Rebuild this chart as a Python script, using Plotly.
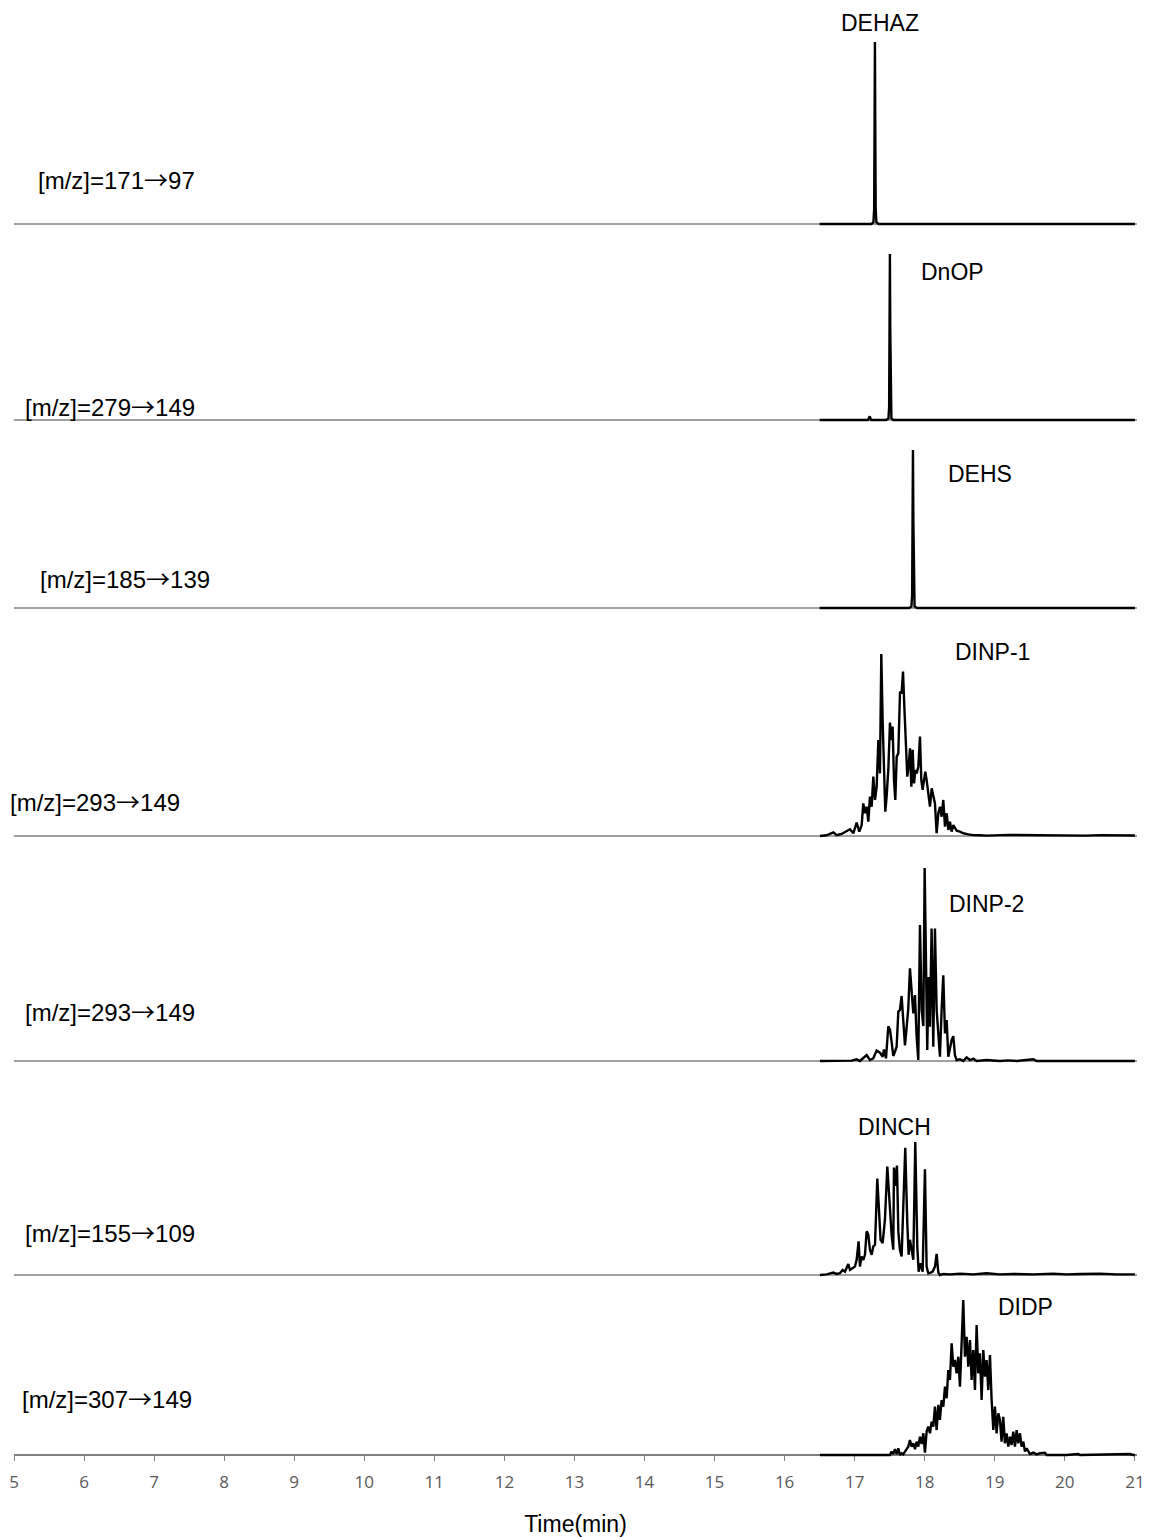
import plotly.graph_objects as go

# ---------------- data ----------------
tick_values = list(range(5, 22))
time_title = "Time(min)"

transition_labels = ["[m/z]=171→97", "[m/z]=279→149", "[m/z]=185→139", "[m/z]=293→149",
                     "[m/z]=293→149", "[m/z]=155→109", "[m/z]=307→149"]
compound_names = ["DEHAZ", "DnOP", "DEHS", "DINP-1", "DINP-2", "DINCH", "DIDP"]

# relative intensity (%) vs retention time (min)
dehaz_t = [16.5, 17.24, 17.268, 17.278, 17.284, 17.289, 17.294, 17.300, 17.31, 17.34, 21.0]
dehaz_i = [0, 0, 1.0, 8, 55, 100, 55, 8, 1.0, 0, 0]

dnop_t = [16.5, 17.19, 17.215, 17.235, 17.45, 17.482, 17.492, 17.498, 17.503, 17.508, 17.514, 17.524, 17.55, 21.0]
dnop_i = [0, 0, 2.2, 0, 0, 1.0, 8, 55, 100, 55, 8, 1.0, 0, 0]

dehs_t = [16.5, 17.78, 17.81, 17.82, 17.826, 17.832, 17.838, 17.844, 17.855, 17.89, 21.0]
dehs_i = [0, 0, 1.0, 8, 55, 100, 55, 8, 1.0, 0, 0]

dinp1_t = [16.505, 16.60, 16.695, 16.743, 16.814, 16.886, 16.933, 16.981, 17.028, 17.066, 17.10,
           17.123, 17.147, 17.171, 17.195, 17.218, 17.242, 17.266, 17.29, 17.314, 17.338, 17.361,
           17.38, 17.40, 17.418, 17.437, 17.456, 17.48, 17.504, 17.523, 17.542, 17.561, 17.58,
           17.60, 17.623, 17.647, 17.67, 17.69, 17.709, 17.732, 17.751, 17.77, 17.79, 17.809,
           17.828, 17.847, 17.866, 17.885, 17.908, 17.932, 17.951, 17.97, 17.989, 18.008, 18.027,
           18.051, 18.075, 18.099, 18.123, 18.146, 18.17, 18.194, 18.218, 18.241, 18.265, 18.289,
           18.313, 18.337, 18.36, 18.384, 18.408, 18.456, 18.503, 18.55, 18.622, 18.693, 18.789,
           18.884, 19.2, 19.5, 19.8, 20.0, 20.3, 20.5, 20.8, 21.0]
dinp1_i = [0, 0.4, 2.0, 0.4, 1.1, 2.4, 3.7, 1.5, 7.3, 2.4, 6.0,
           17.9, 12.5, 16.1, 7.9, 21.6, 16.1, 32.6, 19.8, 27.1, 52.7, 34.4,
           100, 61.9, 43.6, 13.4, 21.6, 36.3, 62.3, 52.7, 60.1, 30.8, 19.8,
           43.6, 45.4, 79.3, 78.4, 90.3, 71.1, 52.7, 32.6, 38.1, 48.2, 27.1,
           47.3, 28.9, 36.3, 34.4, 38.1, 54.6, 30.8, 25.3, 30.8, 35.3, 30.8,
           21.6, 16.1, 26.2, 21.6, 17.9, 1.5, 12.5, 16.1, 10.6, 19.8, 5.1,
           12.5, 3.3, 7.9, 2.4, 6.0, 2.9, 2.4, 1.5, 0.9, 0.5, 0.4,
           0.2, 0.6, 0.5, 0.3, 0.6, 0.2, 0.5, 0.3, 0.3]

dinp2_t = [16.505, 16.956, 17.028, 17.075, 17.171, 17.218, 17.266, 17.313, 17.361, 17.399, 17.418,
           17.447, 17.48, 17.504, 17.527, 17.551, 17.575, 17.599, 17.623, 17.646, 17.67, 17.694,
           17.718, 17.742, 17.765, 17.789, 17.813, 17.837, 17.861, 17.884, 17.908, 17.932, 17.956,
           17.98, 17.999, 18.017, 18.036, 18.055, 18.074, 18.098, 18.122, 18.146, 18.17, 18.194,
           18.217, 18.241, 18.265, 18.289, 18.313, 18.336, 18.36, 18.384, 18.408, 18.431, 18.455,
           18.503, 18.55, 18.598, 18.646, 18.693, 18.741, 18.883, 19.074, 19.193, 19.312, 19.55,
           19.597, 21.0]
dinp2_i = [0, 0.2, 0.9, 0, 3.1, 0.5, 1.4, 5.4, 4.3, 2.2, 6.0,
           1.4, 18.0, 16.1, 10.0, 2.6, 4.8, 7.4, 25.6, 26.4, 33.7, 22.8,
           8.1, 17.6, 27.1, 48.0, 36.8, 24.7, 34.2, 12.8, 0.5, 70.5, 26.4,
           18.1, 100, 45.4, 5.7, 43.5, 17.8, 68.7, 7.4, 68.7, 26.4, 14.3,
           2.2, 26.4, 44.4, 14.3, 21.2, 2.2, 7.4, 10.8, 12.9, 3.1, 0.5,
           0.9, 0, 1.9, 0.5, 1.2, 0, 0.5, 0, 0.3, 0, 0.9,
           0, 0]

dinch_t = [16.505, 16.6, 16.695, 16.742, 16.79, 16.828, 16.861, 16.909, 16.933, 16.971, 17.004,
           17.028, 17.056, 17.075, 17.099, 17.123, 17.147, 17.171, 17.194, 17.218, 17.242, 17.266,
           17.29, 17.323, 17.351, 17.37, 17.399, 17.432, 17.466, 17.494, 17.528, 17.551, 17.561,
           17.58, 17.604, 17.623, 17.646, 17.67, 17.694, 17.722, 17.751, 17.77, 17.789, 17.813,
           17.837, 17.865, 17.894, 17.913, 17.941, 17.97, 18.003, 18.027, 18.051, 18.084, 18.113,
           18.146, 18.17, 18.194, 18.217, 18.265, 18.36, 18.503, 18.693, 18.883, 19.074, 19.264,
           19.454, 19.55, 19.835, 20.025, 20.216, 20.5, 20.739, 21.0]
dinch_i = [0, 0.5, 1.8, 0.8, 1.3, 3.8, 2.5, 8.3, 3.8, 5.1, 6.3,
           11.4, 25.3, 6.3, 13.9, 11.4, 15.2, 32.8, 30.3, 18.9, 15.2, 21.5,
           22.7, 72.5, 39.1, 26.5, 24.0, 41.7, 81.6, 57.6, 29.8, 19.0, 80.8,
           66.9, 82.3, 32.8, 19.0, 13.9, 51.5, 95.7, 39.1, 15.2, 26.5, 19.0,
           11.4, 100, 21.5, 2.5, 8.8, 2.5, 79.5, 6.3, 1.3, 1.8, 2.5,
           6.3, 15.9, 1.8, 0, 0.8, 0.5, 1.0, 0.5, 1.3, 0.5, 0.8,
           0.3, 0.5, 1.0, 0.5, 0.8, 1.0, 0.5, 0.5]

didp_t = [16.505, 17.504, 17.527, 17.551, 17.575, 17.599, 17.623, 17.646, 17.67, 17.694, 17.732,
          17.765, 17.789, 17.813, 17.837, 17.861, 17.884, 17.908, 17.932, 17.956, 17.98, 18.003,
          18.027, 18.051, 18.075, 18.098, 18.122, 18.146, 18.17, 18.194, 18.217, 18.241, 18.265,
          18.289, 18.313, 18.336, 18.36, 18.384, 18.408, 18.431, 18.455, 18.479, 18.503, 18.527,
          18.55, 18.574, 18.598, 18.622, 18.646, 18.669, 18.693, 18.717, 18.741, 18.764, 18.788,
          18.812, 18.836, 18.86, 18.883, 18.907, 18.931, 18.955, 18.979, 19.002, 19.026, 19.05,
          19.074, 19.097, 19.121, 19.145, 19.169, 19.193, 19.217, 19.24, 19.264, 19.288, 19.312,
          19.335, 19.359, 19.383, 19.407, 19.431, 19.454, 19.502, 19.55, 19.597, 19.645, 19.716,
          19.74, 20.025, 20.192, 20.216, 20.929, 20.977, 21.0]
didp_i = [0, 0, 2.2, 0.6, 3.7, 0.6, 4.3, 0, 1.1, 0.4, 3.2,
          5.4, 9.7, 5.4, 7.5, 3.7, 8.6, 5.4, 11.8, 7.1, 14.0, 1.5,
          15.1, 18.3, 14.0, 21.5, 18.3, 31.2, 16.1, 32.3, 22.6, 35.5, 31.2,
          44.1, 36.6, 54.8, 48.4, 72.0, 57.0, 61.3, 52.7, 63.4, 44.1, 67.7,
          100, 63.4, 76.3, 57.0, 74.2, 48.4, 67.7, 41.9, 83.9, 52.7, 65.6,
          35.5, 67.7, 50.5, 61.3, 41.9, 64.5, 35.5, 16.1, 31.2, 14.0, 26.9,
          22.6, 8.6, 24.7, 7.5, 14.0, 5.4, 11.8, 6.5, 15.1, 5.4, 16.1,
          7.5, 14.0, 5.4, 8.6, 2.2, 4.3, 0.6, 1.5, 0.4, 1.1, 1.5,
          0, 0, 0.6, 0, 0.6, 0, 0]

series_t = [dehaz_t, dnop_t, dehs_t, dinp1_t, dinp2_t, dinch_t, didp_t]
series_i = [dehaz_i, dnop_i, dehs_i, dinp1_i, dinp2_i, dinch_i, didp_i]

# ---------------- layout geometry ----------------
# The page body has an 8 px margin; screen positions below are converted to figure positions.
OFF = 8
FW, FH = 1151 - OFF, 1537 - OFF
ML, MR, MT, MB = 14 - OFF, 14, 0, 79
PW, PH = FW - ML - MR, FH - MT - MB
X_RANGE = [5, 21.03]

baseline_px = [224, 420, 608, 836, 1061, 1275, 1455]
peaktop_px = [42, 254, 450, 654, 868, 1142, 1300]
left_label_pos = [(36, 178), (23, 406), (38, 577), (8, 800), (23, 1010), (23, 1231), (20, 1397)]
name_pos = [(880, 23), (952, 272), (980, 474), (992, 652), (986, 904), (894, 1127), (1025, 1307)]


def py(sy):
    return (MT + PH - (sy - OFF)) / PH


def px_x(sx):
    return (sx - OFF - ML) / PW


BASE_COLOR = "#808080"
LINE_COLOR = "#000000"
TEXT_FONT = "Liberation Sans, Arial, sans-serif"
ARROW = '<span style="font-family:\'Noto Sans CJK SC\'">→</span>'

fig = go.Figure()
layout_axes = {}
annotations = []

for k in range(7):
    axname = "y" if k == 0 else f"y{k + 1}"
    layname = "yaxis" if k == 0 else f"yaxis{k + 1}"
    B, P = baseline_px[k], peaktop_px[k]
    unit = (B - P) / 100.0
    T = max(P - 8, OFF)
    lo = -3 / unit
    hi = (B - T) / unit
    layout_axes[layname] = dict(domain=[max(py(B + 3), 0), min(py(T), 1)], range=[lo, hi],
                                visible=False, fixedrange=True, anchor="x")
    if k < 6:
        fig.add_trace(go.Scatter(x=X_RANGE, y=[0, 0], xaxis="x", yaxis=axname, mode="lines",
                                 line=dict(color=BASE_COLOR, width=1.5), hoverinfo="skip",
                                 showlegend=False))
    fig.add_trace(go.Scatter(x=series_t[k], y=series_i[k], xaxis="x", yaxis=axname, mode="lines",
                             line=dict(color=LINE_COLOR, width=2.4), name=compound_names[k],
                             showlegend=False))
    lx, ly = left_label_pos[k]
    annotations.append(dict(text=transition_labels[k].replace("→", ARROW), xref="paper", yref="paper",
                            x=px_x(lx), y=py(ly), xanchor="left", yanchor="middle",
                            showarrow=False, font=dict(family=TEXT_FONT, size=24, color="#000")))
    nx, ny = name_pos[k]
    annotations.append(dict(text=compound_names[k], xref="paper", yref="paper",
                            x=px_x(nx), y=py(ny), xanchor="center", yanchor="middle",
                            showarrow=False, font=dict(family=TEXT_FONT, size=23, color="#000")))

fig.update_layout(
    width=FW, height=FH,
    margin=dict(l=ML, r=MR, t=MT, b=MB, autoexpand=False),
    paper_bgcolor="white", plot_bgcolor="white",
    showlegend=False,
    xaxis=dict(range=X_RANGE, tickmode="array", tickvals=tick_values,
               ticktext=[str(v) for v in tick_values],
               anchor="free", position=py(1455), layer="below traces",
               showline=True, linecolor=BASE_COLOR, linewidth=1.5,
               ticks="outside", ticklen=5, tickwidth=1, tickcolor=BASE_COLOR,
               ticklabelstandoff=7, ticklabeloverflow="allow",
               tickfont=dict(family="Open Sans, sans-serif", size=17, color="#595959"),
               showgrid=False, zeroline=False, fixedrange=True,
               title=dict(text=time_title, standoff=30,
                          font=dict(family=TEXT_FONT, size=23, color="#000"))),
    annotations=annotations,
    **layout_axes,
)

fig.write_html("out.html")
